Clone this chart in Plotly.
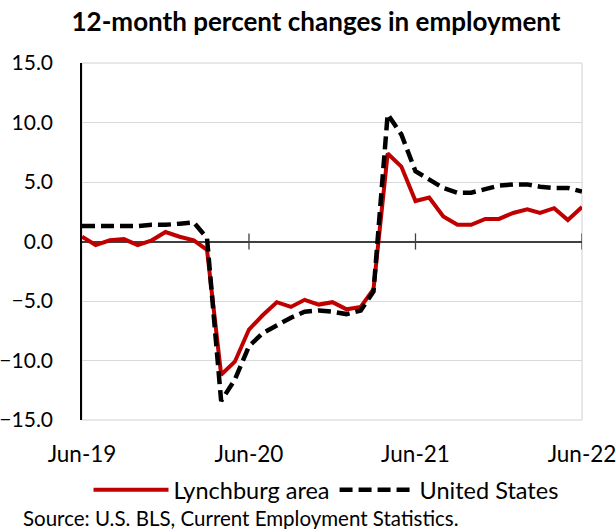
import pandas as pd
import plotly.graph_objects as go

months = pd.date_range("2019-06-01", "2022-06-01", freq="MS")

lynchburg = [0.4, -0.3, 0.1, 0.2, -0.3, 0.1, 0.8, 0.4, 0.1, -0.7,
             -11.2, -10.1, -7.4, -6.2, -5.1, -5.5, -4.9, -5.3, -5.1, -5.7,
             -5.5, -4.0, 7.4, 6.3, 3.4, 3.7, 2.1, 1.4, 1.4, 1.9,
             1.9, 2.4, 2.7, 2.4, 2.8, 1.8, 2.9]

united_states = [1.3, 1.3, 1.3, 1.3, 1.3, 1.4, 1.4, 1.5, 1.6, 0.3,
                 -13.4, -11.6, -8.8, -7.7, -7.0, -6.4, -5.9, -5.8, -5.9, -6.1,
                 -5.8, -4.2, 10.7, 9.0, 5.9, 5.2, 4.5, 4.1, 4.1, 4.4,
                 4.7, 4.8, 4.8, 4.6, 4.5, 4.5, 4.2]

tick_dates = ["2019-06-01", "2020-06-01", "2021-06-01", "2022-06-01"]
tick_labels = ["Jun-19", "Jun-20", "Jun-21", "Jun-22"]
y_ticks = [-15, -10, -5, 0, 5, 10, 15]

FONT = "Lato"
W, H = 616, 529
L, R, T, B = 82, 34, 63, 109
plot_h = H - T - B
plot_w = W - L - R

fig = go.Figure()
fig.add_trace(go.Scatter(
    x=months, y=lynchburg, mode="lines", name="Lynchburg area",
    line=dict(color="#C00000", width=4),
))
fig.add_trace(go.Scatter(
    x=months, y=united_states, mode="lines", name="United States",
    line=dict(color="black", width=4.5, dash="13px,6px"),
))

# outer light border
fig.add_shape(type="rect", xref="paper", yref="paper", x0=0, x1=1, y0=0, y1=1,
              line=dict(color="#d0d0d0", width=1), layer="below")
# tick marks crossing the zero line
for d in tick_dates[1:]:
    fig.add_shape(type="line", xref="x", yref="y", x0=d, x1=d, y0=-0.68, y1=0.68,
                  line=dict(color="#404040", width=1.3), layer="above")

fig.update_layout(
    width=W, height=H,
    margin=dict(l=L, r=R, t=T, b=B, autoexpand=False),
    paper_bgcolor="white", plot_bgcolor="white",
    font=dict(family=FONT, color="black"),
    title=dict(text="<b>12-month percent changes in employment</b>",
               x=316 / W, xref="container", xanchor="center",
               y=1 - 22 / H, yref="container", yanchor="middle",
               font=dict(size=26, family=FONT, color="black")),
    showlegend=True,
    legend=dict(orientation="h", xref="container", x=326 / W, xanchor="center",
                yref="container", y=1 - 490 / H, yanchor="middle",
                font=dict(size=23.5, family=FONT, color="black"),
                itemwidth=75, traceorder="normal", bgcolor="rgba(0,0,0,0)"),
    xaxis=dict(
        range=[months[0], months[-1]],
        tickvals=tick_dates, ticktext=tick_labels,
        tickfont=dict(size=22.5, family=FONT, color="black"),
        ticks="", showgrid=False, showline=False, zeroline=False,
        ticklabelstandoff=18, automargin=False, ticklabeloverflow="allow",
    ),
    yaxis=dict(
        range=[-15, 15], tickvals=y_ticks, tickformat=".1f",
        tickfont=dict(size=21, family=FONT, color="black"),
        showgrid=True, gridcolor="#d9d9d9", gridwidth=1,
        zeroline=True, zerolinecolor="#404040", zerolinewidth=1.5,
        showline=True, linecolor="black", linewidth=1.5,
        ticks="", ticklabelstandoff=23, automargin=False, ticklabeloverflow="allow",
    ),
    annotations=[dict(
        text="Source: U.S. BLS, Current Employment Statistics.",
        xref="paper", yref="paper", x=(21 - L) / plot_w, y=(H - B - 518) / plot_h,
        xanchor="left", yanchor="middle", showarrow=False,
        font=dict(size=20.5, family=FONT, color="black"),
    )],
)

fig.write_html("out.html", config={"displayModeBar": False},
               post_script="document.body.style.margin='0';document.body.style.overflow='hidden';")
